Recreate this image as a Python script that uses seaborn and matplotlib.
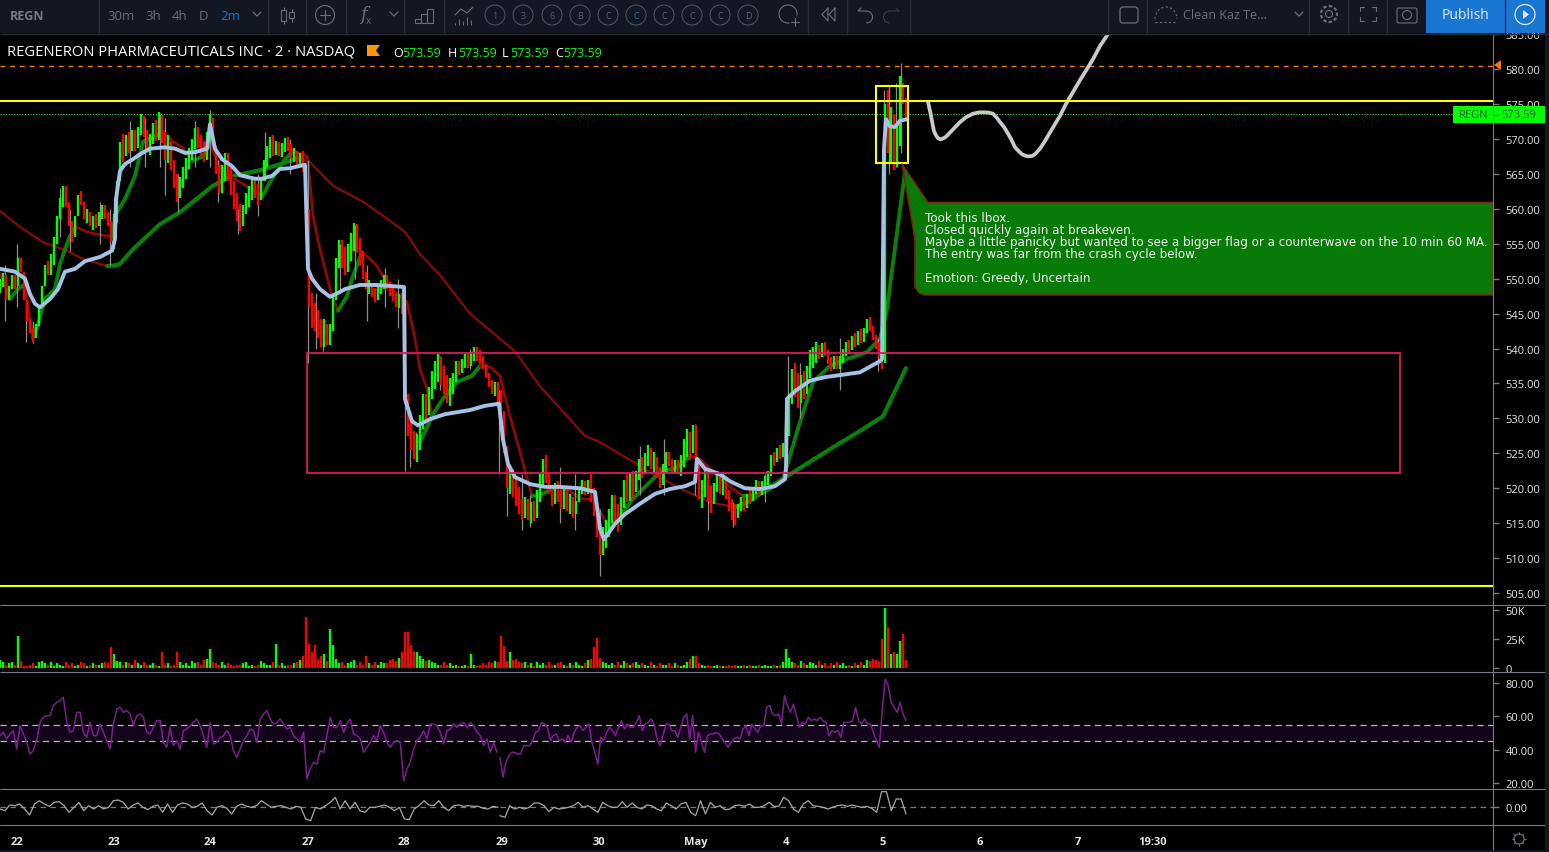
import numpy as np
import matplotlib
matplotlib.use("Agg")
import matplotlib.pyplot as plt
import seaborn as sns
from matplotlib.patches import Rectangle, Circle, Polygon, FancyBboxPatch, Arc

sns.set_style("dark")
plt.rcParams['font.family'] = ['Open Sans', 'DejaVu Sans']

# x values are time slots, one slot is 4 minutes of session time
close_22 = [549, 550.5, 547, 549, 550, 549, 553, 551, 547, 544, 542.5, 541.5, 543.5, 546, 549, 552, 551, 553, 555, 559,
            561, 562.5, 561, 557.5, 556, 559, 562, 561, 558.5, 559.5, 557.5, 558.5, 558]
close_23 = [559, 560, 559, 558, 555.5, 558, 564, 569.5, 568, 570, 569, 570.5, 569, 571.5, 572.5, 571, 568.5, 570, 571.5,
            571, 572.7, 570, 568, 569, 566, 564, 562, 564, 565, 566.5, 568, 569, 571, 569.5, 568.5]
close_24 = [568, 570, 573, 569, 565, 563.5, 565, 567, 565, 563, 561, 559.5, 558, 560, 561.5, 562, 563.5, 562.5, 561.5,
            564, 567, 568, 569.5, 568.5, 569, 568, 568.8, 569.5, 569, 567.5, 568, 566.5, 567.5, 566]
close_27 = [560, 546, 545, 544, 543, 541.5, 543, 541, 543, 547, 553, 554, 553, 552, 554, 555, 557, 554.5, 553, 551, 548.5,
            549, 547.8, 547.5, 548.5, 549, 550, 549, 548, 547.5, 546.5, 547, 546, 532]
close_28 = [529, 527, 525.5, 526, 530, 532, 531, 534, 535.5, 537, 537.5, 536, 535, 533.5, 534, 536, 537.5, 537, 538, 538.5,
            538, 539, 539.5, 539, 538.5, 537.5, 536, 535, 534, 534.5, 533, 531, 525]
close_29 = [521, 521.5, 520, 519, 517.5, 516.5, 518, 516, 517, 516.5, 519, 521, 523.5, 522, 519.5, 518.5, 520, 519, 518,
            519, 517.5, 518, 516.5, 518, 520, 520.5, 519.5, 521, 519, 517, 514, 512, 513]
close_30 = [514, 516, 518, 516, 515.5, 518, 520.5, 519.5, 521, 520, 522, 523.5, 522.5, 524.5, 525, 523.5, 524, 522, 521,
            523, 524.5, 524, 522.5, 523.5, 522.5, 524, 526, 527, 525, 529, 524, 518.5, 520]
close_may = [521.5, 519, 518, 520.5, 521.5, 520, 521, 519, 517.5, 516.5, 516, 517.5, 518, 517.5, 519, 518.5, 520, 520.5,
             519.5, 520.5, 521, 522, 524.5, 524, 525.5, 525, 526, 528, 533, 536, 535, 533, 535.5]
close_4 = [534, 537, 538.5, 539, 540, 539, 540.5, 539.5, 538, 537.5, 538.5, 537.5, 538.5, 539.5, 540.5, 540, 541.5, 541,
           542, 541.5, 542.5, 544, 543, 541.5, 540.5, 539, 538, 575, 570, 571, 568, 570, 578, 575, 573.59]

# height of the coloured band around each close, in dollars
bar_range = [2, 2, 2, 2, 2, 2, 3, 2, 3, 3, 2, 2, 2, 3, 3, 2, 2, 3, 4, 4, 3, 3, 3, 3, 3, 3, 3, 2, 2, 2, 2, 2, 2,
             2, 2, 2, 2, 3, 5, 6, 4, 4, 3, 3, 3, 3, 3, 3, 3, 3, 3, 3, 3, 4, 4, 4, 4, 4, 4, 4, 3, 3, 3, 3, 3, 3, 3, 3,
             3, 4, 4, 4, 4, 4, 4, 4, 4, 4, 4, 4, 4, 3, 3, 3, 3, 3, 3, 3, 3, 3, 3, 3, 2, 2, 2, 2, 2, 2, 2, 2, 2, 3,
             6, 6, 5, 4, 4, 4, 4, 3, 3, 5, 5, 4, 4, 4, 4, 4, 4, 4, 4, 4, 2, 2, 2, 2, 2, 2, 2, 2, 2, 2, 2, 2, 3, 10,
             6, 5, 4, 4, 5, 5, 4, 4, 4, 4, 4, 4, 4, 4, 4, 3, 3, 2, 2, 2, 2, 2, 2, 2, 2, 2, 2, 2, 2, 2, 3, 4, 6,
             6, 4, 4, 4, 4, 3, 3, 3, 3, 3, 4, 4, 4, 4, 3, 3, 3, 3, 3, 3, 3, 3, 3, 2, 2, 2, 2, 2, 4, 4, 5, 5, 4,
             4, 4, 4, 4, 4, 4, 4, 4, 4, 4, 3, 3, 3, 3, 3, 3, 3, 3, 3, 3, 3, 2, 2, 2, 2, 3, 4, 4, 4, 4, 5, 5, 4,
             4, 4, 4, 3, 3, 3, 3, 3, 3, 3, 3, 2, 2, 2, 2, 2, 2, 2, 2, 2, 2, 2, 3, 2, 2, 2, 2, 4, 6, 5, 5, 5, 4,
             4, 4, 4, 3, 3, 2, 2, 2, 2, 2, 2, 2, 2, 2, 2, 2, 2, 2, 2, 2, 2, 2, 2, 2, 2, 2, 3, 10, 9, 8, 8, 6, 10, 3, 3]

volume_k = [7, 5, 3, 4, 5, 3, 28, 6, 2, 2, 3, 4, 2, 5, 6, 4, 3, 5, 2, 4, 3, 2, 5, 3, 4, 2, 3, 5, 4, 2, 3, 4, 3,
            3, 4, 5, 4, 18, 12, 6, 5, 3, 5, 4, 3, 7, 4, 3, 5, 3, 3, 4, 3, 2, 14, 3, 4, 2, 3, 14, 5, 3, 4, 2, 6, 4, 5, 3,
            7, 8, 16, 5, 4, 3, 5, 3, 4, 3, 2, 3, 3, 4, 5, 2, 3, 2, 3, 6, 4, 3, 3, 5, 21, 3, 4, 2, 3, 3, 4, 5, 7, 10,
            44, 21, 14, 20, 8, 10, 12, 6, 34, 20, 8, 4, 5, 3, 4, 5, 7, 3, 5, 3, 10, 4, 3, 5, 3, 5, 4, 4, 7, 8, 6, 9, 14, 31,
            31, 20, 15, 14, 10, 8, 6, 7, 5, 4, 3, 3, 5, 3, 4, 2, 3, 2, 2, 3, 2, 12, 3, 2, 3, 4, 3, 5, 4, 6, 5, 28, 19,
            6, 14, 7, 8, 5, 4, 5, 3, 4, 2, 5, 3, 4, 3, 5, 3, 3, 4, 5, 3, 2, 4, 3, 5, 3, 2, 4, 7, 8, 18, 26, 9, 5,
            4, 3, 4, 3, 5, 3, 6, 4, 3, 4, 5, 3, 4, 3, 2, 5, 3, 2, 4, 3, 3, 4, 2, 4, 3, 2, 3, 5, 8, 10, 10, 4, 3,
            2, 3, 2, 2, 3, 2, 2, 2, 3, 2, 3, 2, 2, 3, 2, 3, 2, 2, 3, 2, 3, 2, 2, 3, 2, 3, 5, 16, 9, 5, 4, 3, 6,
            4, 3, 5, 4, 3, 6, 3, 4, 2, 4, 3, 5, 3, 4, 2, 3, 2, 4, 3, 5, 3, 7, 6, 8, 7, 5, 25, 52, 35, 12, 14, 12, 23, 29, 7]

spike_slot = [5, 17, 26, 33, 60, 70, 100, 110, 130, 145, 160, 165, 178, 195, 210, 218, 238, 258, 265, 290, 308, 316, 323,
              340, 355, 367, 385, 398, 405, 410, 416, 440, 470, 499, 507, 522, 530, 560, 575, 600, 640, 664, 695, 708,
              733, 765, 788, 800, 840, 878, 884, 889, 896, 901]
spike_low = [544, 546, 541, 540.8, 556, 554, 555, 552, 566, 566, 566, 562, 559.5, 566, 566, 561, 556.4, 559, 564, 565, 538,
             540, 539.6, 548, 550, 544, 546, 543, 522.5, 523, 524, 534, 537, 522, 516, 514, 514.5, 515, 514, 507.4, 519,
             519, 519, 514, 514.5, 518, 528, 530, 534, 536.8, 545, 565, 566, 568]
spike_high = [552, 555, 547, 544, 563, 560, 561, 560, 572.5, 573, 573.5, 573, 565, 572.5, 574.2, 567, 560, 565, 571, 570,
              567, 548, 544, 555, 557.7, 552, 551.5, 550, 546, 531, 528, 539, 540, 534, 526, 522, 519, 523, 522, 517, 526,
              527, 529.2, 521, 518, 522, 539, 538, 541.5, 541.5, 577, 577.5, 578, 580.8]

blue_slot = [0, 15, 25, 30, 35, 40, 50, 58, 65, 75, 85, 100, 112, 115, 116, 120, 125, 133, 140, 150, 165, 175, 185, 195,
             207, 210, 215, 222, 232, 240, 255, 262, 272, 280, 290, 305, 308, 312, 320, 330, 336, 345, 360, 375, 395,
             404, 405, 412, 418, 430, 445, 470, 485, 499, 503, 508, 515, 530, 545, 560, 580, 595, 600, 604, 615, 625,
             640, 655, 670, 685, 695, 697, 705, 720, 730, 745, 760, 775, 785, 786, 787, 795, 810, 825, 840, 860, 880,
             882, 884, 886, 890, 895, 900, 907]
blue_price = [551.4, 551.0, 550.0, 547.8, 546.4, 545.9, 547.1, 548.5, 551.0, 551.4, 552.5, 553.1, 554.0, 555.7, 561.4,
              565.4, 566.4, 567.1, 567.8, 568.6, 568.8, 568.6, 568.0, 568.1, 568.6, 572.1, 568.6, 567.1, 566.1, 564.8,
              564.3, 564.3, 564.7, 565.7, 565.8, 566.3, 551.4, 550.0, 548.5, 547.4, 547.8, 548.5, 549.1, 549.1, 548.9,
              548.8, 532.8, 529.6, 529.0, 529.9, 530.6, 531.2, 531.8, 532.1, 527.0, 523.5, 521.6, 520.6, 520.2, 520.2,
              520.0, 519.5, 514.2, 512.7, 514.9, 516.3, 517.8, 519.2, 519.9, 520.3, 520.9, 524.2, 522.8, 522.0, 521.0,
              520.0, 519.9, 520.3, 521.3, 522.8, 532.8, 533.9, 535.4, 535.9, 536.2, 536.6, 538.2, 538.5, 568.6, 572.8,
              571.8, 571.7, 572.6, 572.8]

slow_slot = [0, 20, 43, 67, 83, 107, 113, 120, 133, 160, 180, 213, 230, 243, 260, 283, 297, 309, 333, 363, 383, 405, 420,
             440, 470, 500, 515, 540, 585, 600, 633, 653, 680, 710, 735, 750, 770, 790, 830, 860, 883, 906]
slow_price = [559.7, 557.4, 555.2, 554, 552.8, 551.8, 551.85, 552.1, 554.2, 557.8, 559.5, 563.3, 564.6, 565, 565.5, 566.5,
              567.2, 566.8, 563.3, 561, 559, 556.7, 553.5, 550.5, 545, 541.4, 539.6, 534.6, 527.5, 526.6, 523.8, 522, 520,
              518, 517.3, 518.2, 520.2, 522, 525.6, 528.2, 530.3, 537.2]

mid_a_slot = [0, 10, 18, 25, 30, 33, 38, 45, 55, 60, 65, 70, 76, 85, 95, 112, 116, 125, 135, 143, 150, 163, 173, 182, 192,
              203, 210, 220, 230, 240, 248, 257, 262, 270, 283, 293, 307, 308, 313, 320, 332, 338, 347, 353, 362, 367,
              377, 383, 392, 400, 407, 415, 420, 427, 432]
mid_a_price = [550.7, 547.1, 548.5, 549.2, 544.2, 541.6, 543.5, 547.1, 548.5, 552.1, 554.2, 556.1, 557.4, 556.8, 556.4,
               556, 559.3, 561.4, 564.7, 569.6, 570, 571, 569.6, 568.8, 566.8, 567.5, 569.3, 566, 564.7, 563.8, 563.1,
               562.4, 561.7, 563.8, 566.7, 568.3, 567.5, 566.8, 559, 554.2, 547.5, 545.4, 547.5, 550.4, 553.8, 553.2,
               551.8, 550.4, 548.5, 547.5, 546.7, 541.4, 537.1, 534.2, 530.5]
mid_b_slot = [420, 433, 443, 457, 472, 480, 490, 500, 510, 520, 532, 540, 557, 570, 580, 593, 610, 620, 633, 650, 660, 677,
              690, 700, 717, 733, 743, 757, 770, 783, 800, 813, 830, 847, 867, 880, 887, 905]
mid_b_price = [526.6, 530.6, 532.8, 535.2, 536.1, 537.5, 537.4, 536.1, 530.3, 525.2, 518.9, 519, 520.3, 519.6, 518.5, 518.4,
               514.2, 516, 518.5, 520.9, 522.3, 523, 524.6, 524.2, 521.8, 519.9, 518.9, 519, 519.9, 521.3, 529.5, 535.2,
               537.5, 538.5, 539.5, 541.4, 545.7, 565.3]

path_slot = [928, 930, 931, 933, 934, 936, 938, 940, 942, 945, 948, 954, 960, 966, 973, 979, 985, 989, 993, 997, 1000, 1004,
             1007, 1011, 1015, 1019, 1022, 1025, 1028, 1032, 1035, 1040, 1045, 1052, 1060, 1066, 1073, 1080, 1087, 1093,
             1100, 1108]
path_price = [575.3, 574, 573.3, 571.8, 571.1, 570.5, 570.1, 569.95, 570, 570.2, 570.6, 571.5, 572.4, 573.1, 573.6, 573.8,
              573.8, 573.75, 573.6, 573, 572.4, 571.7, 571, 570, 568.8, 568.2, 567.8, 567.6, 567.5, 567.55, 567.8, 568.6,
              569.7, 571.4, 573.3, 575, 576.7, 578.4, 580, 581.4, 583.3, 585]

rsi_a = [48.4, 50.4, 46.4, 49.4, 51.4, 40.4, 54.4, 49.4, 44.4, 37.4, 39.4, 45.4, 56.4, 59.4, 60.4, 60.4, 66.4, 68.4, 69.4,
         71.4, 56.4, 50.4, 51.4, 62.4, 62.4, 50.4, 47.4, 56.4, 48.4, 48.4, 55.4, 50.4, 45.4, 40.4, 55.4, 64.4, 65.4, 62.4,
         63.4, 61.4, 54.4, 60.4, 61.4, 59.4, 50.4, 49.4, 53.4, 57.4, 57.4, 44.4, 41.4, 53.4, 42.4, 45.4, 40.4, 51.4, 52.4,
         54.4, 56.4, 58.4, 54.4, 48.4, 41.4, 56.4, 43.4, 44.4, 47.4, 48.4, 51.4, 48.4, 39.4, 35.4, 40.4, 45.4, 48.4, 52.4,
         51.4, 44.4, 58.4, 61.4, 63.4, 58.4, 55.4, 56.4, 58.4, 55.4, 52.4, 53.4, 48.4, 46.4, 44.4, 50.4, 22.4, 28.4, 32.4,
         31.4, 39.4, 38.4, 48.4, 59.4, 53.4, 53.4, 57.4, 50.4, 55.4, 58.4, 49.4, 48.4, 46.4, 38.4, 41.4, 44.4, 48.4, 45.4,
         54.4, 50.4, 44.4, 41.4, 44.4, 45.4, 44.4, 21.4, 28.4, 32.4, 40.4, 45.4, 47.4, 51.4, 46.4, 55.4, 55.4, 54.4, 50.4,
         43.4, 51.4, 52.4, 55.4, 53.4, 55.4, 56.4, 53.4, 56.4, 54.4, 50.4, 48.4, 42.4, 46.4, 38.4, 44.4, 38.4]
rsi_b = [35.4, 23.4, 32.4, 36.4, 38.4, 38.4, 37.4, 37.4, 42.4, 42.4, 42.4, 45.4, 50.4, 51.4, 56.4, 55.4, 53.4, 45.4, 48.4,
         49.4, 45.4, 46.4, 44.4, 48.4, 44.4, 50.4, 53.4, 54.4, 51.4, 53.4, 55.4, 44.4, 38.4, 31.4, 47.4, 45.4, 50.4, 53.4,
         51.4, 48.4, 53.4, 57.4, 52.4, 55.4, 53.4, 53.4, 56.4, 60.4, 51.4, 55.4, 56.4, 58.4, 55.4, 46.4, 42.4, 48.4, 55.4,
         55.4, 51.4, 51.4, 47.4, 53.4, 59.4, 61.4, 46.4, 60.4, 38.4, 50.4, 44.4, 38.4, 48.4, 49.4, 49.4, 50.4, 49.4, 46.4,
         44.4, 41.4, 44.4, 46.4, 47.4, 46.4, 52.4, 54.4, 48.4, 55.4, 52.4, 50.4, 54.4, 54.4, 65.4, 66.4, 61.4, 60.4, 61.4,
         55.4, 72.4, 66.4, 62.4, 67.4, 60.4, 53.4, 56.4, 55.4, 59.4, 57.4, 58.4, 57.4, 59.4, 57.4, 56.4, 48.4, 51.4, 50.4,
         51.4, 47.4, 56.4, 56.4, 56.4, 57.4, 65.4, 57.4, 55.4, 58.4, 55.4, 55.4, 50.4, 45.4, 41.4, 64.4, 82.4, 78.4, 68.4,
         65.4, 62.4, 68.4, 61.4, 57.4]

osc_a = [-0.6, -1.1, 0.6, 0.4, 0.9, -0.6, -2.4, 0.9, 1.9, 0.9, 0.2, 1.4, 1.6, 0.4, -1.6, -0.1, 1.4, -1.1, 0.4, -0.6, 0.4,
         -0.6, -0.1, 1.9, 2.1, 1.4, -0.6, 0.6, 1.2, -0.1, -0.8, 0.2, 0.6, -1.6, 0.9, -1.6, 0.6, 1.2, 0.9, -0.1, 0.2, 1.2,
         -1.1, -2.4, -0.1, 0.4, -0.4, -2.1, 0.2, 0.9, 0.2, -0.1, 0.4, 1.9, 0.9, -0.1, 0.2, 0.4, -0.1, -0.6, 0.2, -0.1,
         -3.6, -4.1, -0.1, -0.6, 0.4, 1.4, 2.9, -0.6, 1.9, -0.6, 1.4, -1.1, -1.6, -0.1, -0.1, 0.2, 0.6, -0.1, -1.1, -0.1,
         -3.6, -3.8, -0.6, 0.4, 1.9, 0.6, 0.4, 1.9, -0.1, -1.1, 0.4, 0.6, 0.2, 0.4, 0.2, 0.2, -0.4, -0.6, 0.2, -0.1]
osc_b = [-2.6, -3.1, 0.4, -0.6, -0.1, -0.6, -0.1, 1.2, 1.2, 0.4, -1.4, -0.1, -0.6, -0.4, -0.1, 0.4, 1.4, -0.1, 0.4, -0.6,
         -1.6, 1.4, 0.4, -0.1, -0.1, 1.6, -0.1, 1.2, -0.1, -0.6, 0.6, 0.4, -0.6, -1.1, 1.2, 0.4, -0.6, 0.9, 1.4, -1.6, -2.6,
         1.9, -2.1, 1.4, -0.1, 0.4, -0.8, -0.6, 0.4, 0.6, 0.2, 0.9, -0.1, -0.1, 0.4, 1.4, 0.2, 0.2, 2.9, 1.9, -0.6, -1.6,
         0.9, 1.9, 0.4, 0.2, -0.1, -0.6, -0.1, 0.4, 0.6, 0.2, 0.6, 0.2, -0.1, 0.2, -0.4, -1.6, 4.6, 4.6, -1.1, 2.4, 2.4, -2.1]

day_slots = [17, 114, 210, 307.5, 404, 502, 599, 696, 786, 883, 980, 1078, 1153]
day_labels = ['22', '23', '24', '27', '28', '29', '30', 'May', '4', '5', '6', '7', '19:30']
price_ticks = list(range(505, 590, 5))
volume_ticks = [0, 25, 50]
volume_labels = ['0', '25K', '50K']
rsi_ticks = [20, 40, 60, 80]

last_price = 573.59
res_high = 575.4
res_low = 506.0
stop_line = 580.5
box_low, box_high = 522.2, 539.4
box_start, box_end = 307, 1400
entry_low, entry_high = 566.6, 577.6
entry_start, entry_end = 876, 908

note_lines = ["Took this lbox.", "Closed quickly again at breakeven.",
              "Maybe a little panicky but wanted to see a bigger flag or a counterwave on the 10 min 60 MA.",
              "The entry was far from the crash cycle below.", "Emotion: Greedy, Uncertain"]

W, H = 1549, 853
GRID = "#787b86"
TEXT = "#e4e5e9"
ICON = "#6b6f7b"
BAR_BG = "#131722"

close = np.array(close_22 + close_23 + close_24 + close_27 + close_28 + close_29 + close_30 + close_may + close_4)
slots = np.arange(len(close)) * 3
opens = np.r_[close[0], close[:-1]]
rising = close >= opens
band = np.array(bar_range, float)
centre = (close + opens) / 2
bar_low = np.minimum(np.minimum(close, opens), centre - band / 2)
bar_high = np.maximum(np.maximum(close, opens), centre + band / 2)


def pane(top, bottom, ylim):
    ax = fig.add_axes([0, 1 - bottom / H, 1493 / W, (bottom - top) / H])
    ax.set_facecolor("black")
    ax.set_xlim(0, 1493)
    ax.set_ylim(*ylim)
    for s in ax.spines.values():
        s.set_visible(False)
    ax.grid(False)
    ax.set_xticks([])
    ax.yaxis.tick_right()
    ax.tick_params(axis='y', length=4, width=1, color=GRID, labelcolor=TEXT, labelsize=8, pad=5)
    return ax


def line(ax, x, y, color, lw, **kw):
    sns.lineplot(x=np.asarray(x, float), y=np.asarray(y, float), color=color, linewidth=lw, estimator=None, sort=False,
                 errorbar=None, legend=False, ax=ax, **kw)


def color_line(ax, x, y, up_lw, down_lw, zorder):
    # the moving averages change colour with their direction
    start = 0
    for i in range(1, len(y)):
        last = i == len(y) - 1
        turned = not last and (y[i + 1] >= y[i]) != (y[i] >= y[i - 1])
        if turned or last:
            up = y[i] >= y[i - 1]
            line(ax, x[start:i + 1], y[start:i + 1], "#0a800a" if up else "#8c0a0a", up_lw if up else down_lw,
                 zorder=zorder)
            start = i


fig = plt.figure(figsize=(W / 100, H / 100), dpi=100, facecolor="black")

# price pane
ax = pane(35, 605, (580 - 535 * 0.1431, 580 + 35 * 0.1431))
ax.set_yticks(price_ticks)
ax.set_yticklabels(['%.2f' % p for p in price_ticks])
color_line(ax, slow_slot, slow_price, 3, 1.5, 2)
color_line(ax, mid_a_slot, mid_a_price, 2.8, 2, 2)
color_line(ax, mid_b_slot, mid_b_price, 2.8, 2, 2)
ax.vlines(spike_slot, spike_low, spike_high, color="#8e8e8e", lw=0.9, zorder=3)
ax.vlines(slots[rising], bar_low[rising], bar_high[rising], color="#00ff00", lw=1.7, zorder=3)
ax.vlines(slots[~rising], bar_low[~rising], bar_high[~rising], color="#ff0000", lw=1.7, zorder=3)
line(ax, blue_slot, blue_price, "#a4c2e6", 2.8, zorder=4)
line(ax, path_slot, path_price, "#c9c9c9", 2.7, zorder=4)
ax.axhline(stop_line, color="#f57c00", lw=1, ls=(0, (3.5, 3.5)), zorder=1)
ax.plot([0, 1453], [last_price, last_price], color="#29e629", lw=0.7, ls=(0, (1.2, 1.6)), zorder=1)
ax.axhline(res_high, color="#ffff00", lw=1.5, zorder=5)
ax.axhline(res_low, color="#ffff00", lw=1.5, zorder=5)
ax.add_patch(Rectangle((box_start, box_low), box_end - box_start, box_high - box_low, fill=False, ec="#d81b60", lw=1.3,
                       zorder=5))
ax.add_patch(Rectangle((entry_start, entry_low), entry_end - entry_start, entry_high - entry_low, fill=False,
                       ec="#ffff00", lw=1.5, zorder=6))

# volume pane
vol = pane(605, 672, (-2.6, 55.2))
vol.set_yticks(volume_ticks)
vol.set_yticklabels(volume_labels)
volume = np.array(volume_k, float)
vol.vlines(slots[rising], 0, volume[rising], color="#00ff00", lw=1.7)
vol.vlines(slots[~rising], 0, volume[~rising], color="#ff0000", lw=1.7)

# rsi pane
rsi = pane(672, 789, (17, 87.2))
rsi.set_yticks(rsi_ticks)
rsi.set_yticklabels(['%.2f' % r for r in rsi_ticks])
rsi.axhspan(45, 55, color="#130519", lw=0)
rsi.axhline(55, color="#b9b2bd", lw=0.9, ls=(0, (5, 3.5)))
rsi.axhline(45, color="#b9b2bd", lw=0.9, ls=(0, (5, 3.5)))
line(rsi, np.linspace(0, 497, len(rsi_a)), rsi_a, "#7d1d91", 1.1, zorder=3)
line(rsi, np.linspace(500, 906, len(rsi_b)), rsi_b, "#7d1d91", 1.1, zorder=3)

# oscillator pane, carries the time axis
osc = pane(789, 825, (-5.1, 5.7))
osc.set_yticks([0])
osc.set_yticklabels(['0.00'])
osc.axhline(0, color=GRID, lw=0.9, ls=(0, (4.5, 3.5)))
line(osc, np.linspace(0, 498, len(osc_a)), osc_a, "#a8a8a8", 0.9, zorder=3)
line(osc, np.linspace(500, 906, len(osc_b)), osc_b, "#a8a8a8", 0.9, zorder=3)
osc.set_xticks(day_slots)
osc.set_xticklabels(day_labels, fontweight='bold')
osc.tick_params(axis='x', length=3, width=1, color=GRID, labelcolor=TEXT, labelsize=8, pad=6)

# everything below is drawn in picture pixels
ch = fig.add_axes([0, 0, 1, 1], zorder=10)
ch.set_xlim(0, W)
ch.set_ylim(H, 0)
ch.axis("off")
ch.patch.set_alpha(0)


def hline(y, x0=0, x1=1545, c=GRID, lw=0.8):
    ch.plot([x0, x1], [y, y], color=c, lw=lw, solid_capstyle='butt')


def vline(x, y0, y1, c=GRID, lw=0.8):
    ch.plot([x, x], [y0, y1], color=c, lw=lw, solid_capstyle='butt')


for y in [605.5, 673, 789.5, 825.5]:
    hline(y)
vline(1493.5, 35, 851)
ch.add_patch(Rectangle((0, 851), W, 2, fc=BAR_BG, lw=0))
ch.add_patch(Rectangle((1545, 0), 4, H, fc=BAR_BG, lw=0))

# callout
ch.add_patch(Polygon([(902, 165), (928, 203.5), (1493, 203.5), (1493, 296), (925, 296), (919, 294), (915, 288), (915, 240)],
                     closed=True, fc="#087a08", ec="#7d2410", lw=1.1, joinstyle='round'))
note_font = dict(color="#f2f2f2", fontsize=8.6, family=['DejaVu Sans'], va='center')
for y, s in zip([218.5, 230.5, 242.5, 254.5, 278.5], note_lines):
    ch.text(925, y, s, **note_font)

# legend row
ch.text(7, 52, "REGENERON PHARMACEUTICALS INC · 2 · NASDAQ", color="white", fontsize=10.6, va='center', fontweight='medium')
ch.add_patch(Polygon([(367, 46), (380, 46), (376, 51.5), (380, 57), (367, 57)], fc="#ff9800", lw=0))
for x, k, vx in [(393, "O", 402), (448, "H", 458), (502, "L", 510), (555, "C", 563)]:
    ch.text(x, 53, k, color="white", fontsize=9, va='center')
    ch.text(vx, 53, "573.59", color="#00ff00", fontsize=9, va='center')

# price labels on the right
ch.add_patch(Rectangle((1453, 107), 40, 17, fc="#00ff00", lw=0))
ch.add_patch(Rectangle((1493, 107), 52, 17, fc="#00ff00", lw=0))
ch.text(1474, 115.5, "REGN", color="#0a5c0a", fontsize=8, ha='center', va='center')
ch.text(1519, 115.5, "573.59", color="#0a5c0a", fontsize=8, ha='center', va='center')
ch.plot([1493, 1498], [115.5, 115.5], color="#0a5c0a", lw=0.8)
ch.add_patch(Polygon([(1494, 66), (1501, 61), (1501, 71)], fc="#f57c00", lw=0))

# toolbar
ch.add_patch(Rectangle((0, 0), W, 34, fc=BAR_BG, lw=0, zorder=1))
hline(34.5, 0, W, c="#2a2e39", lw=1)
for x in [99, 268, 306, 346, 404, 444, 808, 847, 910, 1108, 1147, 1309, 1348, 1387]:
    vline(x, 0, 34, c="#2a2e39", lw=1)
tb = dict(va='center', zorder=3)
ch.text(10, 16, "REGN", color="#787b86", fontsize=9, fontweight='bold', **tb)
for x, s in [(107, "30m"), (145, "3h"), (172, "4h"), (199, "D")]:
    ch.text(x, 16, s, color=ICON, fontsize=9.5, **tb)
ch.text(220, 16, "2m", color="#1976d2", fontsize=9.5, **tb)


def chevron(x, y=15):
    ch.plot([x - 4, x, x + 4], [y - 2, y + 2, y - 2], color=ICON, lw=0.9, zorder=3)


for x in [257, 394, 1299]:
    chevron(x)

# candle icon
for x, a, b, c, d in [(284, 8, 25, 11, 22), (292, 10, 23, 13, 19)]:
    vline(x, a, b, c=ICON)
    ch.add_patch(Rectangle((x - 2.5, c), 5, d - c, fc=BAR_BG, ec=ICON, lw=0.8, zorder=3))
ch.add_patch(Circle((325, 16), 9.5, fill=False, ec=ICON, lw=0.8, zorder=3))
ch.plot([320, 330], [16, 16], color=ICON, lw=0.8, zorder=3)
ch.plot([325, 325], [11, 21], color=ICON, lw=0.8, zorder=3)
ch.text(360, 15, "f", color=ICON, fontsize=13, style='italic', family=['DejaVu Serif'], **tb)
ch.text(366, 21, "x", color=ICON, fontsize=7, **tb)
for x, top in [(418, 20), (424, 15), (430, 10)]:
    ch.add_patch(Rectangle((x - 3, top), 6, 24 - top, fill=False, ec=ICON, lw=0.8, zorder=3))
ch.plot([455, 461, 467, 473], [16, 10, 14, 8], color=ICON, lw=0.8, zorder=3)
for x, top in [(455, 24), (459, 20), (463, 22), (467, 18), (471, 21)]:
    vline(x, top, 26, c=ICON)
for x, s in zip([495, 523, 552, 580, 608, 636, 664, 692, 720, 748], "136BCCCCCD"):
    ch.add_patch(Circle((x, 16), 10, fill=False, ec="#4c5060", lw=0.8, zorder=3))
    ch.text(x, 16, s, color="#5d6270" if x != 636 else "#2f6fb0", fontsize=6.5, ha='center', **tb)

# alarm, rewind, undo, redo
ch.add_patch(Arc((788, 15), 18, 18, theta1=80, theta2=370, ec=ICON, lw=0.8, zorder=3))
ch.plot([795, 795], [19, 27], color=ICON, lw=0.8, zorder=3)
ch.plot([791, 799], [23, 23], color=ICON, lw=0.8, zorder=3)
for x in [822, 829]:
    ch.plot([x + 6, x, x + 6, x + 6], [9, 15.5, 22, 9], color=ICON, lw=0.8, zorder=3)
ch.add_patch(Arc((866, 18), 13, 12, theta1=270, theta2=90, ec=ICON, lw=0.8, zorder=3))
ch.plot([861, 858, 866], [9, 12, 12], color=ICON, lw=0.8, zorder=3)
ch.add_patch(Arc((890, 18), 13, 12, theta1=90, theta2=270, ec="#3a3e4a", lw=0.8, zorder=3))
ch.plot([896, 899, 890], [9, 12, 12], color="#3a3e4a", lw=0.8, zorder=3)

ch.add_patch(FancyBboxPatch((1120, 8), 18, 16, boxstyle="round,pad=0,rounding_size=3", fill=False, ec=ICON, lw=0.9,
                            zorder=3))
ch.add_patch(Arc((1166, 20), 22, 24, theta1=180, theta2=360, ec=ICON, lw=0.8, ls=(0, (2, 2)), zorder=3))
ch.plot([1155, 1177], [23, 23], color=ICON, lw=0.8, ls=(0, (2, 2)), zorder=3)
ch.text(1183, 15, "Clean Kaz Te...", color=ICON, fontsize=9, **tb)
ch.add_patch(Circle((1329, 15), 8, fill=False, ec=ICON, lw=1.6, ls=(0, (1.5, 1)), zorder=3))
ch.add_patch(Circle((1329, 15), 3.5, fill=False, ec=ICON, lw=0.8, zorder=3))
for sx, sy in [(-1, -1), (1, -1), (-1, 1), (1, 1)]:
    cx, cy = 1368 + sx * 8, 15 + sy * 7
    ch.plot([cx - sx * 4, cx, cx], [cy, cy, cy - sy * 4], color=ICON, lw=0.8, zorder=3)
ch.add_patch(FancyBboxPatch((1397, 9), 20, 15, boxstyle="round,pad=0,rounding_size=2", fill=False, ec=ICON, lw=0.8,
                            zorder=3))
ch.add_patch(Circle((1407, 16), 4.5, fill=False, ec=ICON, lw=0.8, zorder=3))
ch.add_patch(Rectangle((1426, 0), 119, 34, fc="#1976d2", lw=0, zorder=2))
ch.plot([1505.5, 1505.5], [0, 34], color=BAR_BG, lw=0.8, zorder=3)
ch.text(1466, 15.5, "Publish", color="#e4e8ee", fontsize=10, ha='center', **tb)
ch.add_patch(Circle((1525, 15.5), 10, fill=False, ec="#e4e8ee", lw=0.9, zorder=3))
ch.add_patch(Polygon([(1523, 11), (1529, 15.5), (1523, 20)], fc="#e4e8ee", lw=0, zorder=3))

# settings sun, bottom right
ch.add_patch(Circle((1519, 840), 5, fill=False, ec=ICON, lw=0.9))
for a in np.deg2rad([0, 90, 180, 270, 45, 135, 225, 315]):
    ch.plot([1519 + 5 * np.cos(a), 1519 + 7 * np.cos(a)], [840 + 5 * np.sin(a), 840 + 7 * np.sin(a)], color=ICON, lw=0.7)

fig.savefig("out.png", dpi=100, facecolor="black")
